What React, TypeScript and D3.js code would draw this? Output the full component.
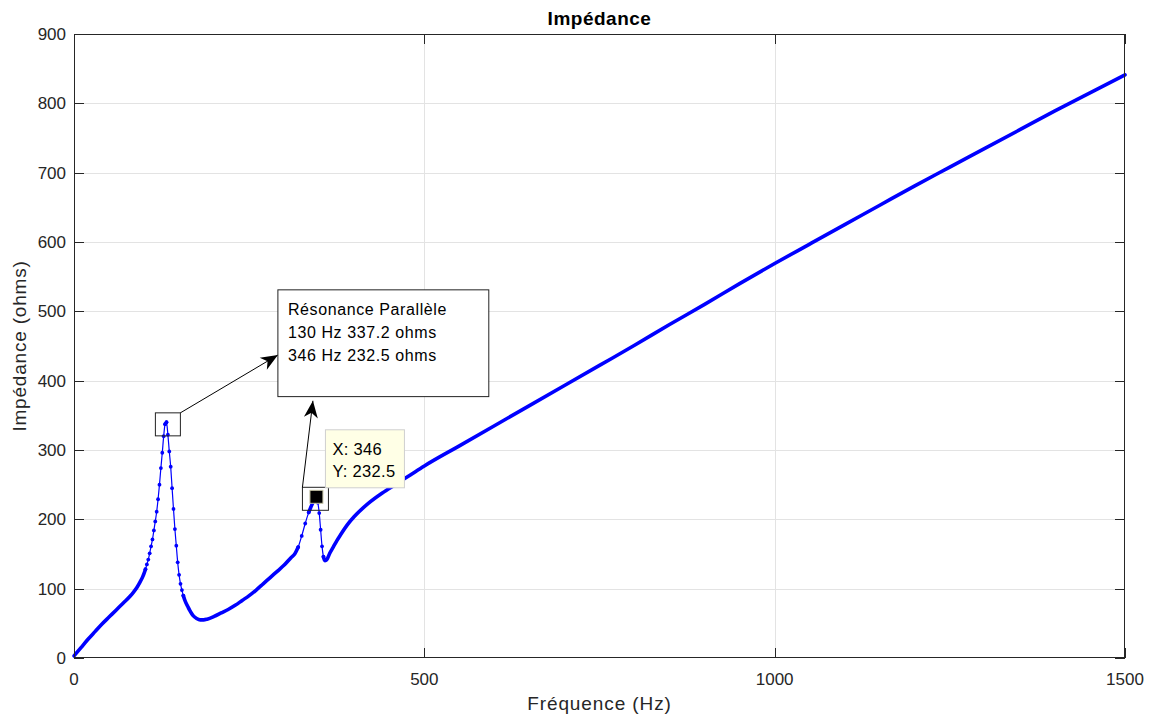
import React from "react";
import * as d3 from "d3";

// Frequency (Hz) and impedance (ohms)
const FREQ = [
  0, 10, 20, 30, 40, 50, 60, 70, 80, 85, 90, 94, 98, 100, 102, 104, 106, 108, 110, 112, 114, 116, 118, 120,
  122, 124, 126, 128, 130, 132, 134, 136, 138, 140, 142, 144, 146, 148, 150, 152, 154, 156, 158, 160, 162,
  165, 170, 175, 180, 185, 190, 200, 210, 220, 230, 240, 250, 260, 270, 280, 290, 300, 310, 315, 320, 325,
  330, 335, 340, 343, 346, 348, 350, 352, 354, 356, 358, 360, 362, 365, 370, 375, 380, 390, 400, 420, 440,
  460, 480, 500, 550, 600, 650, 700, 750, 800, 850, 900, 950, 1000, 1050, 1100, 1150, 1200, 1250, 1300,
  1350, 1400, 1450, 1500,
];
const IMPEDANCE = [
  3, 15, 27, 38, 49, 59, 69, 79, 89, 95, 102, 109, 117, 122, 128, 135, 142, 151, 161, 171, 184, 197, 211, 229,
  250, 274, 296, 320, 337.2, 340, 322, 298, 276, 245, 215, 186, 162, 138, 120, 107, 98, 90, 84, 79, 75,
  69, 61, 57, 55, 55, 56, 60, 65, 70, 76, 83, 90, 98, 107, 116, 125, 134, 145, 150, 160, 176,
  194, 210, 222, 228, 232.5, 224, 209, 185, 161, 146, 140.5, 141, 144, 151, 160, 169, 177, 192, 204, 223, 238,
  251, 264, 277, 306, 335, 364, 393, 422, 451, 481, 510, 540, 569, 597, 625, 653, 681, 708, 735,
  762, 789, 815, 841,
];
const X_TICKS = [0, 500, 1000, 1500];
const Y_TICKS = [0, 100, 200, 300, 400, 500, 600, 700, 800, 900];

const TITLE = "Impédance";
const X_LABEL = "Fréquence (Hz)";
const Y_LABEL = "Impédance (ohms)";
const NOTE_LINES = ["Résonance Parallèle", "130 Hz 337.2 ohms", "346 Hz 232.5 ohms"];
const TIP_X = 346;
const TIP_Y = 232.5;
const PEAK1 = [134, 337];

const W = 1151;
const H = 717;
const M = { left: 74, top: 34, right: 26, bottom: 59 };
const FONT = "'Liberation Sans', Arial, Helvetica, sans-serif";
const AX = "#262626";

function arrowHead(x1: number, y1: number, x2: number, y2: number) {
  const dx = x2 - x1, dy = y2 - y1;
  const len = Math.hypot(dx, dy);
  const ux = dx / len, uy = dy / len;
  const nx = -uy, ny = ux;
  const L = 17, Wd = 7, N = 12;
  const p = [
    [x2, y2],
    [x2 - L * ux + Wd * nx, y2 - L * uy + Wd * ny],
    [x2 - N * ux, y2 - N * uy],
    [x2 - L * ux - Wd * nx, y2 - L * uy - Wd * ny],
  ];
  return p.map((q) => q.join(",")).join(" ");
}

export default function App() {
  const x = d3.scaleLinear().domain([0, 1500]).range([M.left, W - M.right]);
  const y = d3.scaleLinear().domain([0, 900]).range([H - M.bottom, M.top]);
  const x0 = M.left, x1 = W - M.right, y0 = H - M.bottom, y1 = M.top;
  const cx = (x0 + x1) / 2;
  const cy = (y0 + y1) / 2;
  const snap = (v: number) => Math.round(v) + 0.5;

  const pts: [number, number][] = FREQ.map((f, i) => [x(f), y(IMPEDANCE[i])]);
  const line = d3
    .line<[number, number]>()
    .x((d) => d[0])
    .y((d) => d[1])
    .curve(d3.curveMonotoneX);
  const thin = line(pts) || "";

  // group runs of gently-sloped segments (drawn thick, as dense markers merge there)
  const runs: [number, number][][] = [];
  const dotIdx = new Set<number>();
  let cur: [number, number][] | null = null;
  for (let i = 0; i < pts.length - 1; i++) {
    const a = pts[i], b = pts[i + 1];
    const s = Math.abs(b[1] - a[1]) / Math.abs(b[0] - a[0]);
    if (s < 3) {
      if (!cur) {
        cur = [a];
        runs.push(cur);
      }
      cur.push(b);
    } else {
      cur = null;
      dotIdx.add(i);
      dotIdx.add(i + 1);
    }
  }

  // annotation geometry (data coordinates)
  const b1x = x(PEAK1[0]), b1y = y(PEAK1[1]);
  const b1 = { l: b1x - 12.5, t: b1y - 11.5, w: 25, h: 23 };
  const nb = { l: x(291), t: y(531), r: x(592), b: y(377) };
  const a1 = { x1: b1.l + b1.w, y1: b1.t, x2: nb.l, y2: y(437) };
  const px2 = x(TIP_X), py2 = y(TIP_Y);
  const b2 = { l: px2 - 14, t: py2 - 9.5, w: 26, h: 23 };
  const a2 = { x1: b2.l, y1: b2.t, x2: x(341), y2: y(371) };
  const tip = { l: px2 + 9, t: py2 - 67, w: 79, h: 58 };

  return (
    <div style={{ position: "absolute", left: 0, top: 0 }}>
      <svg width={W} height={H} style={{ display: "block", background: "#fff" }} fontFamily={FONT}>
        {/* grid */}
        {X_TICKS.slice(1, -1).map((t) => (
          <line key={"gx" + t} x1={snap(x(t))} x2={snap(x(t))} y1={y1} y2={y0} stroke="#e3e3e3" strokeWidth={1} />
        ))}
        {Y_TICKS.slice(1, -1).map((t) => (
          <line key={"gy" + t} x1={x0} x2={x1} y1={snap(y(t))} y2={snap(y(t))} stroke="#e3e3e3" strokeWidth={1} />
        ))}

        {/* data */}
        <path d={thin} fill="none" stroke="#0000ff" strokeWidth={1.2} />
        {runs.map((r, i) => (
          <path key={"r" + i} d={line(r) || ""} fill="none" stroke="#0000ff" strokeWidth={3.6} strokeLinecap="round" strokeLinejoin="round" />
        ))}
        {Array.from(dotIdx).map((i) => (
          <circle key={"d" + i} cx={pts[i][0]} cy={pts[i][1]} r={1.9} fill="#0000ff" />
        ))}

        {/* axes box */}
        <rect x={x0 + 0.5} y={y1 + 0.5} width={x1 - x0 - 1} height={y0 - y1 - 1} fill="none" stroke={AX} strokeWidth={1} />
        {X_TICKS.map((t) => (
          <g key={"xt" + t}>
            <line x1={snap(x(t))} x2={snap(x(t))} y1={y0} y2={y0 - 10} stroke={AX} />
            <line x1={snap(x(t))} x2={snap(x(t))} y1={y1} y2={y1 + 10} stroke={AX} />
            <text x={x(t)} y={685} textAnchor="middle" fontSize={17} fill={AX}>{t}</text>
          </g>
        ))}
        {Y_TICKS.map((t) => (
          <g key={"yt" + t}>
            <line x1={x0} x2={x0 + 10} y1={snap(y(t))} y2={snap(y(t))} stroke={AX} />
            <line x1={x1} x2={x1 - 10} y1={snap(y(t))} y2={snap(y(t))} stroke={AX} />
            <text x={66} y={y(t) + 6} textAnchor="end" fontSize={17} fill={AX}>{t}</text>
          </g>
        ))}

        {/* labels */}
        <text x={cx} y={25} textAnchor="middle" fontSize={19} fontWeight="bold" letterSpacing={0.5} fill="#000">{TITLE}</text>
        <text x={cx} y={710} textAnchor="middle" fontSize={19} letterSpacing={0.9} fill={AX}>{X_LABEL}</text>
        <text transform={`translate(26,${cy}) rotate(-90)`} textAnchor="middle" fontSize={19} letterSpacing={0.8} fill={AX}>{Y_LABEL}</text>

        {/* annotation: peak 1 box + arrow */}
        <rect x={b1.l} y={b1.t} width={b1.w} height={b1.h} fill="none" stroke="#222" strokeWidth={1} />
        <line x1={a1.x1} y1={a1.y1} x2={a1.x2} y2={a1.y2} stroke="#000" strokeWidth={1} />
        <polygon points={arrowHead(a1.x1, a1.y1, a1.x2, a1.y2)} fill="#000" />

        {/* text box */}
        <rect x={nb.l} y={nb.t} width={nb.r - nb.l} height={nb.b - nb.t} fill="#fff" stroke="#222" strokeWidth={1} />
        {NOTE_LINES.map((s, i) => (
          <text key={"n" + i} x={nb.l + 10} y={nb.t + 25 + i * 23.3} fontSize={16} letterSpacing={0.6} fill="#000">{s}</text>
        ))}

        {/* peak 2 box + arrow */}
        <rect x={b2.l} y={b2.t} width={b2.w} height={b2.h} fill="none" stroke="#222" strokeWidth={1} />
        <line x1={a2.x1} y1={a2.y1} x2={a2.x2} y2={a2.y2} stroke="#000" strokeWidth={1} />
        <polygon points={arrowHead(a2.x1, a2.y1, a2.x2, a2.y2)} fill="#000" />

        {/* data tip */}
        <rect x={px2 - 6.5} y={py2 - 6.5} width={13} height={13} fill="#000" stroke="#c9c7a8" strokeWidth={1} />
        <rect x={tip.l} y={tip.t} width={tip.w} height={tip.h} fill="#ffffe6" stroke="#cfcfcf" strokeWidth={1} />
        <text x={tip.l + 7} y={tip.t + 25} fontSize={16.5} letterSpacing={0.3} fill="#000">{`X: ${TIP_X}`}</text>
        <text x={tip.l + 7} y={tip.t + 47.5} fontSize={16.5} letterSpacing={0.3} fill="#000">{`Y: ${TIP_Y}`}</text>
      </svg>
    </div>
  );
}
